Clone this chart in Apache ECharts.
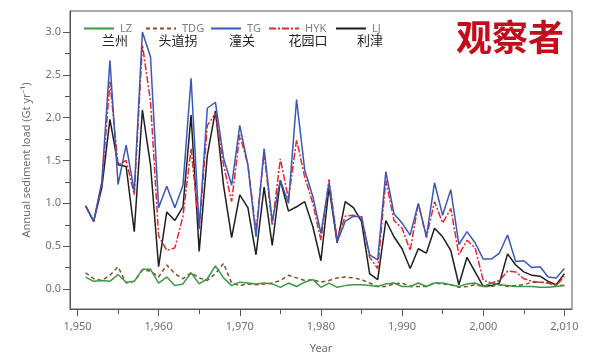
<!DOCTYPE html>
<html><head><meta charset="utf-8">
<script src="https://cdn.jsdelivr.net/npm/echarts@6/dist/echarts.min.js"></script>
<style>html,body{margin:0;padding:0;background:#fff}#c{width:609px;height:359px}</style>
</head><body><div id="c"></div>
<script>
const years = [];
for (let y = 1951; y <= 2010; y++) years.push(y);

const seriesNames = ['LZ', 'TDG', 'TG', 'HYK', 'LJ'];
const chineseNames = ['兰州', '头道拐', '潼关', '花园口', '利津'];
const logoText = '观察者';

const LZ = [0.14,0.09,0.10,0.09,0.17,0.08,0.09,0.23,0.23,0.07,
            0.14,0.04,0.06,0.19,0.06,0.12,0.27,0.13,0.04,0.08,
            0.07,0.06,0.07,0.06,0.02,0.07,0.03,0.08,0.11,0.02,
            0.07,0.02,0.04,0.05,0.05,0.04,0.03,0.06,0.07,0.03,
            0.03,0.07,0.03,0.07,0.07,0.05,0.03,0.06,0.07,0.03,
            0.07,0.05,0.04,0.03,0.03,0.03,0.02,0.02,0.03,0.04];
const TDG = [0.19,0.12,0.10,0.16,0.26,0.07,0.09,0.22,0.21,0.14,
             0.28,0.18,0.12,0.19,0.13,0.10,0.18,0.30,0.07,0.04,
             0.06,0.05,0.06,0.07,0.10,0.16,0.13,0.10,0.11,0.08,
             0.10,0.13,0.14,0.13,0.11,0.07,0.03,0.03,0.06,0.07,
             0.03,0.03,0.03,0.07,0.06,0.05,0.02,0.03,0.05,0.03,
             0.03,0.05,0.03,0.04,0.05,0.08,0.08,0.07,0.05,0.04];
const TG = [0.97,0.79,1.25,2.67,1.22,1.68,1.14,3.00,2.71,0.95,
            1.20,0.95,1.21,2.46,0.71,2.11,2.18,1.53,1.21,1.91,
            1.45,0.61,1.64,0.79,1.27,1.00,2.21,1.39,1.08,0.65,
            1.24,0.55,0.79,0.85,0.84,0.40,0.34,1.37,0.88,0.77,
            0.63,1.00,0.61,1.24,0.86,1.16,0.52,0.67,0.54,0.35,
            0.35,0.42,0.63,0.32,0.33,0.25,0.26,0.14,0.13,0.24];
const HYK = [0.97,0.79,1.22,2.42,1.45,1.50,1.10,2.85,2.19,0.62,
             0.45,0.48,0.85,1.64,0.70,1.91,2.05,1.45,1.02,1.80,
             1.45,0.68,1.59,0.74,1.52,1.05,1.74,1.31,1.00,0.57,
             1.28,0.58,0.85,0.86,0.85,0.37,0.24,1.27,0.80,0.71,
             0.45,1.00,0.60,1.02,0.77,0.94,0.40,0.57,0.48,0.10,
             0.07,0.10,0.21,0.20,0.12,0.09,0.08,0.07,0.04,0.15];
const LJ = [0.97,0.79,1.18,1.98,1.45,1.43,0.67,2.09,1.45,0.26,
            0.90,0.80,0.96,2.03,0.44,1.56,2.08,1.21,0.60,1.10,
            0.95,0.40,1.19,0.51,1.27,0.91,0.96,1.02,0.73,0.33,
            1.19,0.54,1.02,0.95,0.79,0.18,0.11,0.80,0.61,0.47,
            0.24,0.47,0.42,0.71,0.61,0.45,0.05,0.37,0.20,0.03,
            0.04,0.07,0.41,0.28,0.20,0.16,0.15,0.09,0.05,0.18];

const xMajorTicks = [1950,1960,1970,1980,1990,2000,2010];
const xMinorTicks = [1955,1965,1975,1985,1995,2005];
const yMajorTicks = [0,0.5,1,1.5,2,2.5,3];
const yMinorTicks = [0.25,0.75,1.25,1.75,2.25,2.75,3.25,-0.25];

const values = [LZ, TDG, TG, HYK, LJ];
const colors = ['#3c9a45', '#8a4a2c', '#3a58b8', '#e8262c', '#1e1e1e'];
const dashes = ['solid', [4,3], 'solid', [7,2,2,2], 'solid'];

const axisColor = '#555';
const labelColor = '#707070';
const font = 'Noto Sans';

const chart = echarts.init(document.getElementById('c'), null, {renderer: 'canvas'});

const series = seriesNames.map((n, i) => ({
  name: n, type: 'line', xAxisIndex: 0, yAxisIndex: 0,
  data: years.map((y, k) => [y, values[i][k]]),
  showSymbol: false, symbol: 'none', animation: false,
  lineStyle: {color: colors[i], width: 1.5, type: dashes[i]},
  itemStyle: {color: colors[i]},
  z: 10 - i
}));

const legendLefts = [78, 140, 205, 263, 330];
const legends = seriesNames.map((n, i) => ({
  data: [n], left: legendLefts[i], top: 18, itemWidth: 30, itemHeight: 12, itemGap: 0,
  itemStyle: {opacity: 0},
  lineStyle: {color: colors[i], width: 2, type: dashes[i], opacity: 1},
  textStyle: {color: '#808080', fontSize: 11, fontFamily: font, padding: [0,0,0,1]},
  selectedMode: false
}));

const cnCenters = [115, 178, 242, 308, 370];
const graphics = chineseNames.map((t, i) => ({
  type: 'text', x: cnCenters[i], y: 40,
  style: {text: t, fill: '#222', font: '13px "Noto Sans CJK SC"', textAlign: 'center', textVerticalAlign: 'middle'}
}));
graphics.push({
  type: 'text', x: 510, y: 37,
  style: {text: logoText, fill: '#c40d1c', font: 'bold 36px "Noto Sans CJK SC"', textAlign: 'center', textVerticalAlign: 'middle'}
});

const xMin = 1949.08, xMax = 2010.94, yMin = -0.233, yMax = 3.245;

chart.setOption({
  backgroundColor: '#fff',
  animation: false,
  textStyle: {fontFamily: font},
  grid: {left: 70, right: 37, top: 11, bottom: 50, show: true, borderColor: axisColor, borderWidth: 1, backgroundColor: 'transparent'},
  legend: legends,
  graphic: graphics,
  xAxis: [{
    type: 'value', min: xMin, max: xMax, position: 'bottom',
    name: 'Year', nameLocation: 'middle', nameGap: 34,
    nameTextStyle: {color: labelColor, fontSize: 11, fontFamily: font},
    axisLine: {show: true, onZero: false, lineStyle: {color: axisColor, width: 1}},
    axisTick: {show: true, inside: false, length: 7, customValues: xMajorTicks, lineStyle: {color: axisColor}},
    axisLabel: {show: true, margin: 12, customValues: xMajorTicks, color: labelColor, fontSize: 11, fontFamily: font},
    splitLine: {show: false}
  }, {
    type: 'value', min: xMin, max: xMax, position: 'bottom',
    axisLine: {show: false, onZero: false},
    axisTick: {show: true, inside: false, length: 5, customValues: xMinorTicks, lineStyle: {color: axisColor}},
    axisLabel: {show: false},
    splitLine: {show: false}
  }],
  yAxis: [{
    type: 'value', min: yMin, max: yMax, position: 'left',
    name: 'Annual sediment load (Gt yr⁻¹)', nameLocation: 'middle', nameGap: 38,
    nameTextStyle: {color: labelColor, fontSize: 11, fontFamily: font},
    axisLine: {show: true, onZero: false, lineStyle: {color: axisColor, width: 1}},
    axisTick: {show: true, inside: false, length: 7, customValues: yMajorTicks, lineStyle: {color: axisColor}},
    axisLabel: {show: true, margin: 9, customValues: yMajorTicks, color: labelColor, fontSize: 11, fontFamily: font,
      formatter: v => v.toFixed(1)},
    splitLine: {show: false}
  }, {
    type: 'value', min: yMin, max: yMax, position: 'left',
    axisLine: {show: false, onZero: false},
    axisTick: {show: true, inside: false, length: 5, customValues: yMinorTicks.filter(v => v > yMin && v < yMax), lineStyle: {color: axisColor}},
    axisLabel: {show: false},
    splitLine: {show: false}
  }],
  series: series
});
</script></body></html>
